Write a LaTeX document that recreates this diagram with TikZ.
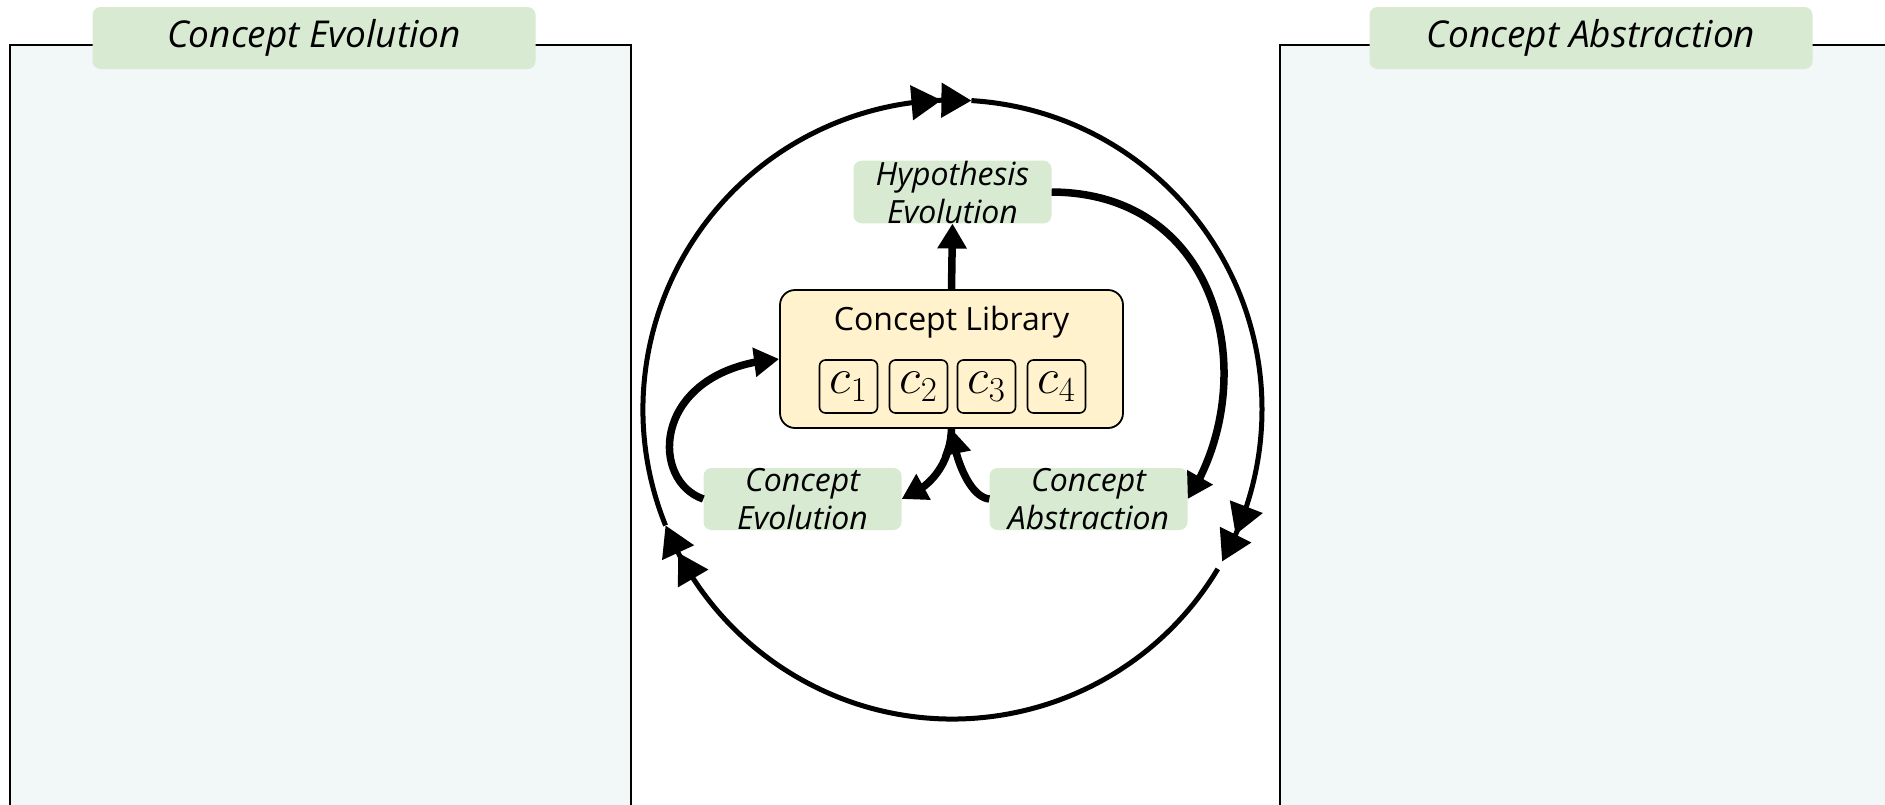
\RequirePackage{fix-cm}
\documentclass[tikz,border=0pt]{standalone}
\usepackage[no-math]{fontspec}
\setmainfont{Open Sans}
\usetikzlibrary{arrows.meta,bending}
\definecolor{panelfill}{HTML}{F2F7F7}
\definecolor{titlegreen}{HTML}{D9EAD3}
\definecolor{libfill}{HTML}{FFF2CC}
\begin{document}
\begin{tikzpicture}[x=1pt,y=1pt,
  panel/.style={draw=black, line width=2pt, fill=panelfill},
  titlebox/.style={fill=titlegreen, rounded corners=8pt, minimum width=443pt, minimum height=62pt, inner sep=0pt, font=\fontsize{37}{44}\selectfont\itshape},
  tag/.style={fill=titlegreen, rounded corners=8pt, minimum width=198pt, minimum height=62pt, align=center, inner sep=0pt, font=\fontsize{32}{38}\selectfont\itshape},
  lib/.style={draw=black, line width=1.8pt, fill=libfill, rounded corners=15pt, minimum width=343pt, minimum height=138pt},
  cbox/.style={draw=black, line width=1.6pt, rounded corners=6pt, minimum width=58pt, minimum height=53pt, inner sep=0pt, font=\fontsize{50}{56}\selectfont},
  flow/.style={line width=7.5pt, -{Triangle[length=25pt,width=28pt]}},
  ring/.style={line width=5pt, -{Triangle[length=30pt,width=34pt]Triangle[length=30pt,width=34pt]}}
]
\useasboundingbox (0,0) rectangle (1885,-804);
\clip (0,0) rectangle (1885,-804);
% side panels
\draw[panel] (10,-44.5) rectangle (631,-830);
\draw[panel] (1280,-44.5) rectangle (1930,-830);
\node[titlebox] (t1) at (314,-38) {Concept Evolution};
\node[titlebox] (t2) at (1591,-38) {Concept Abstraction};
% ring
\coordinate (C) at (952.5,-409.5);
\draw[ring] (C) ++(-31:309.5) arc[start angle=-31, end angle=-158, radius=309.5];
\draw[ring] (C) ++(202:309.5) arc[start angle=202, end angle=86.5, radius=309.5];
\draw[ring] (C) ++(86.5:309.5) arc[start angle=86.5, end angle=-29.4, radius=309.5];
% library
\node[lib] (lib) at (951.5,-359) {};
\node[anchor=base, font=\fontsize{32}{38}\selectfont] (libtitle) at (951.5,-330) {Concept Library};
\node[cbox] (c1) at (848.5,-386.5) {$c_1$};
\node[cbox] (c2) at (918.5,-386.5) {$c_2$};
\node[cbox] (c3) at (986.5,-386.5) {$c_3$};
\node[cbox] (c4) at (1056.5,-386.5) {$c_4$};
% tags
\node[tag] (hyp) at (952.5,-192) {Hypothesis\\Evolution};
\node[tag] (ce) at (802.5,-499) {Concept\\Evolution};
\node[tag] (ca) at (1088.5,-499) {Concept\\Abstraction};
% flows
\draw[flow] (lib.north) -- (hyp.south);
\draw[flow] (hyp.east) .. controls (1225,-193) and (1262,-385) .. (ca.east);
\draw[flow] (ce.west) .. controls (648,-480) and (652,-368) .. (lib.west);
\draw[flow] (lib.south) .. controls (950,-465) and (930,-488) .. (ce.east);
\draw[flow] (ca.west) .. controls (970,-497) and (955,-460) .. (lib.south);
\end{tikzpicture}
\end{document}
